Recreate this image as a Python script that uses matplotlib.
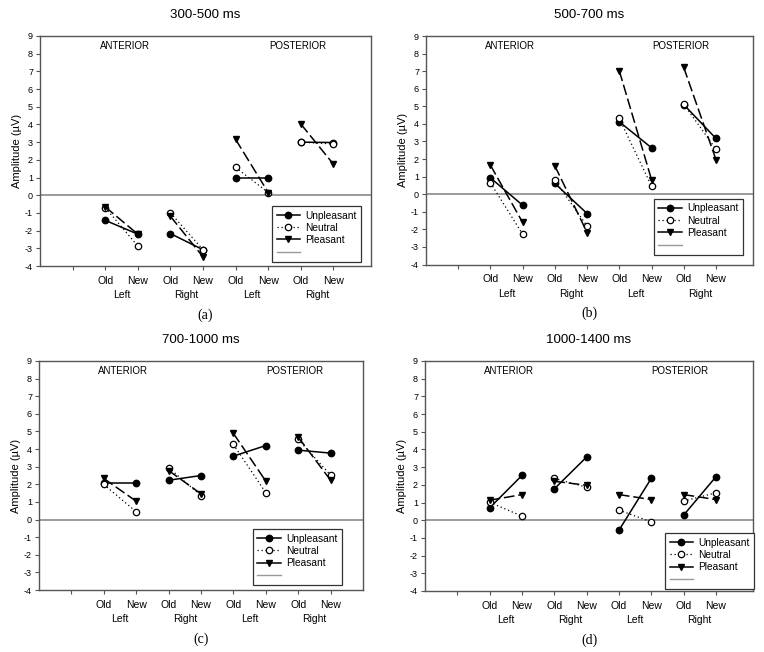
import numpy as np
import matplotlib
matplotlib.use("Agg")
import matplotlib.pyplot as plt
from matplotlib.lines import Line2D

# ---------------- data ----------------
panel_titles = ["300-500 ms", "500-700 ms", "700-1000 ms", "1000-1400 ms"]
captions = ["(a)", "(b)", "(c)", "(d)"]
conditions = ["Old", "New"]
sites = ["Left", "Right", "Left", "Right"]
regions = ["ANTERIOR", "POSTERIOR"]
series_names = ["Unpleasant", "Neutral", "Pleasant"]

unpleasant_a = [-1.42, -2.20, -2.17, -3.08, 0.98, 0.98, 3.00, 2.98]
neutral_a = [-0.70, -2.87, -1.00, -3.08, 1.57, 0.15, 3.00, 2.90]
pleasant_a = [-0.66, -2.20, -1.19, -3.49, 3.15, 0.15, 4.02, 1.75]

unpleasant_b = [0.93, -0.63, 0.61, -1.10, 4.12, 2.64, 5.10, 3.17]
neutral_b = [0.65, -2.28, 0.80, -1.82, 4.31, 0.46, 5.12, 2.56]
pleasant_b = [1.65, -1.61, 1.61, -2.18, 7.02, 0.83, 7.21, 1.97]

unpleasant_c = [2.10, 2.10, 2.23, 2.50, 3.60, 4.20, 3.94, 3.77]
neutral_c = [1.99, 0.44, 2.94, 1.36, 4.26, 1.52, 4.55, 2.52]
pleasant_c = [2.33, 1.04, 2.78, 1.46, 4.89, 2.18, 4.68, 2.23]

unpleasant_d = [0.70, 2.53, 1.77, 3.57, -0.57, 2.36, 0.28, 2.45]
neutral_d = [1.02, 0.23, 2.36, 1.87, 0.57, -0.09, 1.08, 1.55]
pleasant_d = [1.13, 1.45, 2.20, 1.98, 1.45, 1.17, 1.45, 1.17]

panels = [
    (unpleasant_a, neutral_a, pleasant_a),
    (unpleasant_b, neutral_b, pleasant_b),
    (unpleasant_c, neutral_c, pleasant_c),
    (unpleasant_d, neutral_d, pleasant_d),
]

y_ticks = list(range(-4, 10))

# ---------------- layout / style ----------------
W, H = 764, 652
# axes boxes in pixels: left, right, top, bottom
boxes = [(40, 371, 36, 266), (426, 753, 36, 264.5),
         (39, 363, 361, 590), (425, 753, 361, 591)]
xmax = [10.15, 10.15, 10.0, 10.15]
legend_anchor = [(0.701, 0.261), (0.697, 0.287), (0.66, 0.266), (0.732, 0.252)]

sans = "Liberation Sans"
serif = "Liberation Serif"
spine_col = "#555555"

styles = [
    dict(color="black", ls="-", lw=1.1, marker="o", mfc="black", mec="black", ms=4.6),
    dict(color="black", ls=(0, (1, 2.2)), lw=0.9, marker="o", mfc="white", mec="black", ms=4.6, mew=0.9),
    dict(color="black", ls=(0, (7, 2.5)), lw=1.1, marker="v", mfc="black", mec="black", ms=5.0),
]

fig = plt.figure(figsize=(W / 100, H / 100), dpi=100)

n_points = len(sites) * len(conditions)
xpos = np.arange(2, 2 + n_points)

for i, (box, data) in enumerate(zip(boxes, panels)):
    l, r, t, b = box
    ax = fig.add_axes([l / W, 1 - b / H, (r - l) / W, (b - t) / H])
    ax.set_xlim(0, xmax[i])
    ax.set_ylim(-4, 9)
    ax.axhline(0, color="#8a8a8a", lw=1.2, zorder=1)

    for vals, st in zip(data, styles):
        for g in range(len(sites)):
            xs = xpos[2 * g:2 * g + 2]
            ys = vals[2 * g:2 * g + 2]
            ax.plot(xs, ys, color=st["color"], ls=st["ls"], lw=st["lw"],
                    marker=st["marker"], mfc=st["mfc"], mec=st["mec"],
                    ms=st["ms"], mew=st.get("mew", 1.0), zorder=3)

    # ticks
    ax.set_xticks([1] + list(xpos))
    ax.set_xticklabels([""] + conditions * len(sites), fontsize=7.5, family=sans)
    ax.set_yticks(y_ticks)
    ax.set_yticklabels([str(v) for v in y_ticks], fontsize=6.5, family=sans)
    ax.tick_params(axis="both", direction="out", length=3, width=0.8, color=spine_col, pad=2)
    ax.tick_params(axis="x", pad=4)
    for s in ax.spines.values():
        s.set_color(spine_col)
        s.set_linewidth(1.0)

    # site labels under ticks
    for g, s in enumerate(sites):
        xc = (xpos[2 * g] + xpos[2 * g + 1]) / 2
        ax.text(xc, -0.127, s, transform=ax.get_xaxis_transform(), ha="center",
                va="center", fontsize=7.5, family=sans)

    ax.text(2.6, 8.45, regions[0], ha="center", va="center", fontsize=7, family=sans)
    ax.text(7.9, 8.45, regions[1], ha="center", va="center", fontsize=7, family=sans)

    ax.set_ylabel("Amplitude (\u00b5V)", fontsize=8, family=sans, labelpad=2)
    ax.set_title(panel_titles[i], fontsize=9.6, family=sans, pad=13)

    ax.text(0.5, -0.215, captions[i], transform=ax.transAxes, ha="center",
            va="center", fontsize=10, family=serif)

    handles = [
        Line2D([], [], color="black", ls="-", lw=1.1, marker="o", mfc="black", mec="black", ms=4.6),
        Line2D([], [], color="black", ls=(0, (1, 2.2)), lw=0.9, marker="o", mfc="white", mec="black", ms=4.6, mew=0.9),
        Line2D([], [], color="black", ls="-", lw=1.1, marker="v", mfc="black", mec="black", ms=5.0),
        Line2D([], [], color="#999999", ls="-", lw=1.0),
    ]
    leg = ax.legend(handles, series_names + [""], loc="upper left",
                    bbox_to_anchor=legend_anchor[i], prop={"family": sans, "size": 7.3},
                    frameon=True, fancybox=False, edgecolor="#333333",
                    handlelength=2.3, handletextpad=0.5, labelspacing=0.22,
                    borderpad=0.45, borderaxespad=0.0, framealpha=1)
    leg.get_frame().set_linewidth(0.9)

fig.savefig("out.png", dpi=100)
